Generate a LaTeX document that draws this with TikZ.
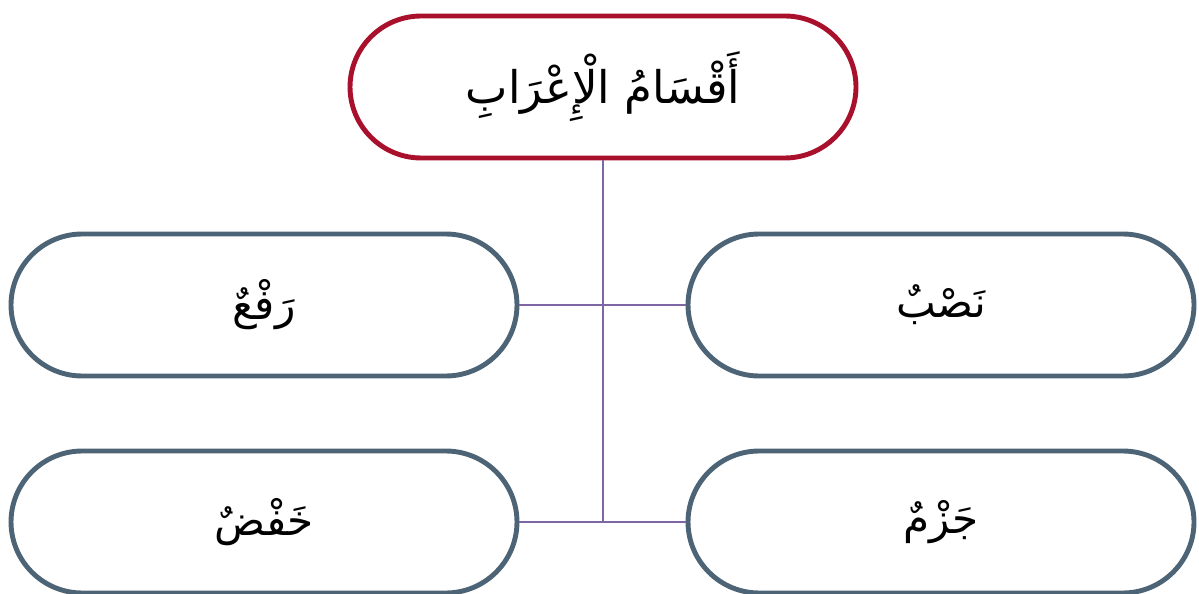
\documentclass[tikz,border=0pt]{standalone}
\usepackage{fontspec}
\newfontfamily\arabicfont[Script=Arabic]{DejaVu Sans}
\TeXXeTstate=1

\definecolor{titlered}{HTML}{A8102C}
\definecolor{boxslate}{HTML}{4D6476}
\definecolor{linkpurple}{HTML}{7D66A3}

\tikzset{
  pill/.style={draw=boxslate, line width=3.5pt, rounded corners=1.78cm,
    minimum width=12.65cm, minimum height=3.55cm, fill=white,
    font=\arabicfont\fontsize{30}{36}\selectfont},
  titlepill/.style={pill, draw=titlered, font=\arabicfont\fontsize{32}{38}\selectfont},
  link/.style={draw=linkpurple, line width=1.4pt}
}

\begin{document}
\begin{tikzpicture}
\useasboundingbox (0,0) rectangle (29.975,-14.85);
% heading and the four kinds
\node[titlepill] (aqsam) at (15.075,-2.175) {\beginR أَقْسَامُ الْإِعْرَابِ\endR};
\node[pill] (rafa) at (6.6,-7.625) {\beginR رَفْعٌ\endR};
\node[pill] (nasb) at (23.525,-7.625) {\beginR نَصْبٌ\endR};
\node[pill] (khafd) at (6.6,-13.05) {\beginR خَفْضٌ\endR};
\node[pill] (jazm) at (23.525,-13.05) {\beginR جَزْمٌ\endR};

\draw[link] (aqsam.south) -- (aqsam.south |- khafd.east);
\draw[link] (rafa.east) -- (nasb.west);
\draw[link] (khafd.east) -- (jazm.west);
\end{tikzpicture}
\end{document}
